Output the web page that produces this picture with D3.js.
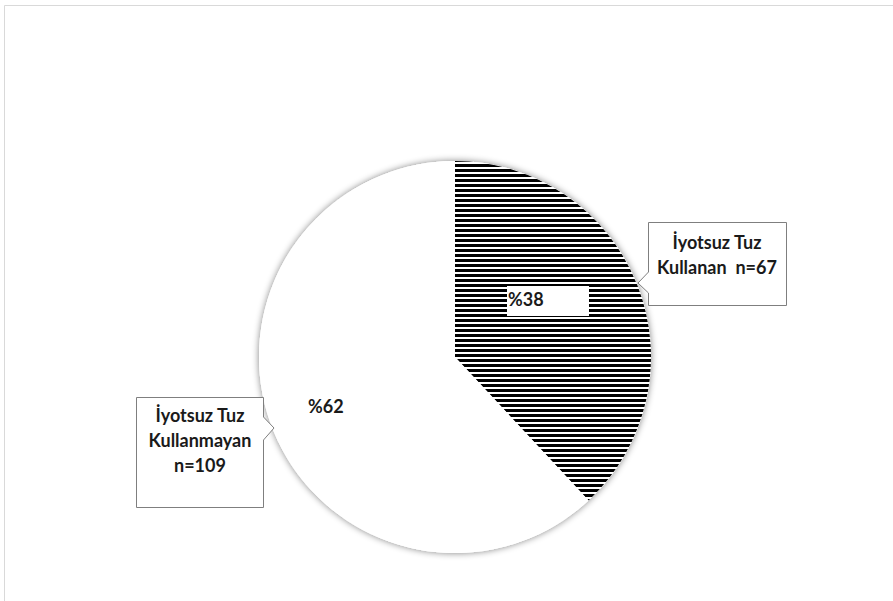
<!DOCTYPE html>
<html>
<head>
<meta charset="utf-8">
<script src="https://cdn.jsdelivr.net/npm/d3@7"></script>
<style>
  body { margin: 0; background: #fff; }
  #graphicContainer { width: 893px; height: 601px; }
  text { font-family: Lato, "Open Sans", sans-serif; fill: #1a1a1a; }
</style>
</head>
<body>
<div id="graphicContainer"></div>
<script>
// data
const groups = ['İyotsuz Tuz Kullanan', 'İyotsuz Tuz Kullanmayan'];
const counts = [67, 109];
const pctLabels = ['%38', '%62'];
const calloutLines = [
  ['İyotsuz Tuz', 'Kullanan  n=67'],
  ['İyotsuz Tuz', 'Kullanmayan', 'n=109']
];

const container = d3.select('#graphicContainer');
const Width = 893, Height = 601;
const cx = 455, cy = 357, R = 196;

const svg = container.append('svg')
  .attr('width', Width)
  .attr('height', Height);

const defs = svg.append('defs');
const pattern = defs.append('pattern')
  .attr('id', 'hstripe')
  .attr('patternUnits', 'userSpaceOnUse')
  .attr('width', 10)
  .attr('height', 5)
  .attr('y', cy % 5);
pattern.append('rect').attr('width', 10).attr('height', 5).attr('fill', '#fff');
pattern.append('rect').attr('width', 10).attr('height', 3).attr('fill', '#000');

const shadow = defs.append('filter')
  .attr('id', 'pieShadow')
  .attr('x', '-10%').attr('y', '-10%')
  .attr('width', '120%').attr('height', '120%');
shadow.append('feGaussianBlur').attr('in', 'SourceAlpha').attr('stdDeviation', 3.5).attr('result', 'blur');
shadow.append('feComponentTransfer').attr('in', 'blur').attr('result', 'soft')
  .append('feFuncA').attr('type', 'linear').attr('slope', 0.5);
const merge = shadow.append('feMerge');
merge.append('feMergeNode').attr('in', 'soft');
merge.append('feMergeNode').attr('in', 'SourceGraphic');

// chart frame (only left and top edge visible in the crop)
svg.append('path')
  .attr('d', `M4.5,${Height} L4.5,5.5 L${Width},5.5`)
  .attr('fill', 'none')
  .attr('stroke', '#d9d9d9')
  .attr('stroke-width', 1);

const pie = d3.pie().sort(null).value(d => d);
const arcs = pie(counts);
const arc = d3.arc().innerRadius(0).outerRadius(R);

const pieG = svg.append('g')
  .attr('transform', `translate(${cx},${cy})`);

pieG.append('circle')
  .attr('r', R)
  .attr('fill', '#fff')
  .attr('filter', 'url(#pieShadow)');

pieG.selectAll('.slice')
  .data(arcs)
  .enter()
  .append('path')
  .attr('class', 'slice')
  .attr('d', arc)
  .attr('fill', (d, i) => i === 0 ? 'url(#hstripe)' : '#fff');

// percent labels
const pctPos = [[53, -57], [-147, 50]];
const pctG = pieG.selectAll('.pct')
  .data(arcs)
  .enter()
  .append('g')
  .attr('class', 'pct')
  .attr('transform', (d, i) => `translate(${pctPos[i][0]},${pctPos[i][1]})`);

pctG.filter((d, i) => i === 0)
  .append('rect')
  .attr('x', -1).attr('y', -14)
  .attr('width', 82).attr('height', 30)
  .attr('fill', '#fff');

pctG.append('text')
  .attr('dy', '0.35em')
  .attr('font-size', 18)
  .attr('font-weight', 'bold')
  .text((d, i) => pctLabels[i]);

// callouts
const callouts = [
  { x: 648, y: 222, w: 138, h: 83, side: 'left', p1: 272, tip: [638, 283], p2: 293, tx: 717, ty: 243 },
  { x: 136, y: 397, w: 127, h: 110, side: 'right', p1: 417, tip: [274, 428], p2: 440, tx: 200, ty: 416 }
];

callouts.forEach((c, i) => {
  const l = c.x + 0.5, t = c.y + 0.5, r = c.x + c.w + 0.5, b = c.y + c.h + 0.5;
  let d;
  if (c.side === 'left') {
    d = `M${l},${t} L${r},${t} L${r},${b} L${l},${b} L${l},${c.p2} L${c.tip[0]},${c.tip[1]} L${l},${c.p1} Z`;
  } else {
    d = `M${l},${t} L${r},${t} L${r},${c.p1} L${c.tip[0]},${c.tip[1]} L${r},${c.p2} L${r},${b} L${l},${b} Z`;
  }
  svg.append('path')
    .attr('d', d)
    .attr('fill', '#fff')
    .attr('stroke', '#7f7f7f')
    .attr('stroke-width', 1);

  svg.append('text')
    .attr('text-anchor', 'middle')
    .attr('font-size', 18)
    .attr('font-weight', 'bold')
    .selectAll('tspan')
    .data(calloutLines[i])
    .enter()
    .append('tspan')
    .attr('x', c.tx)
    .attr('y', (d, j) => c.ty + j * 25)
    .attr('dy', '0.35em')
    .style('white-space', 'pre')
    .text(d => d);
});
</script>
</body>
</html>
